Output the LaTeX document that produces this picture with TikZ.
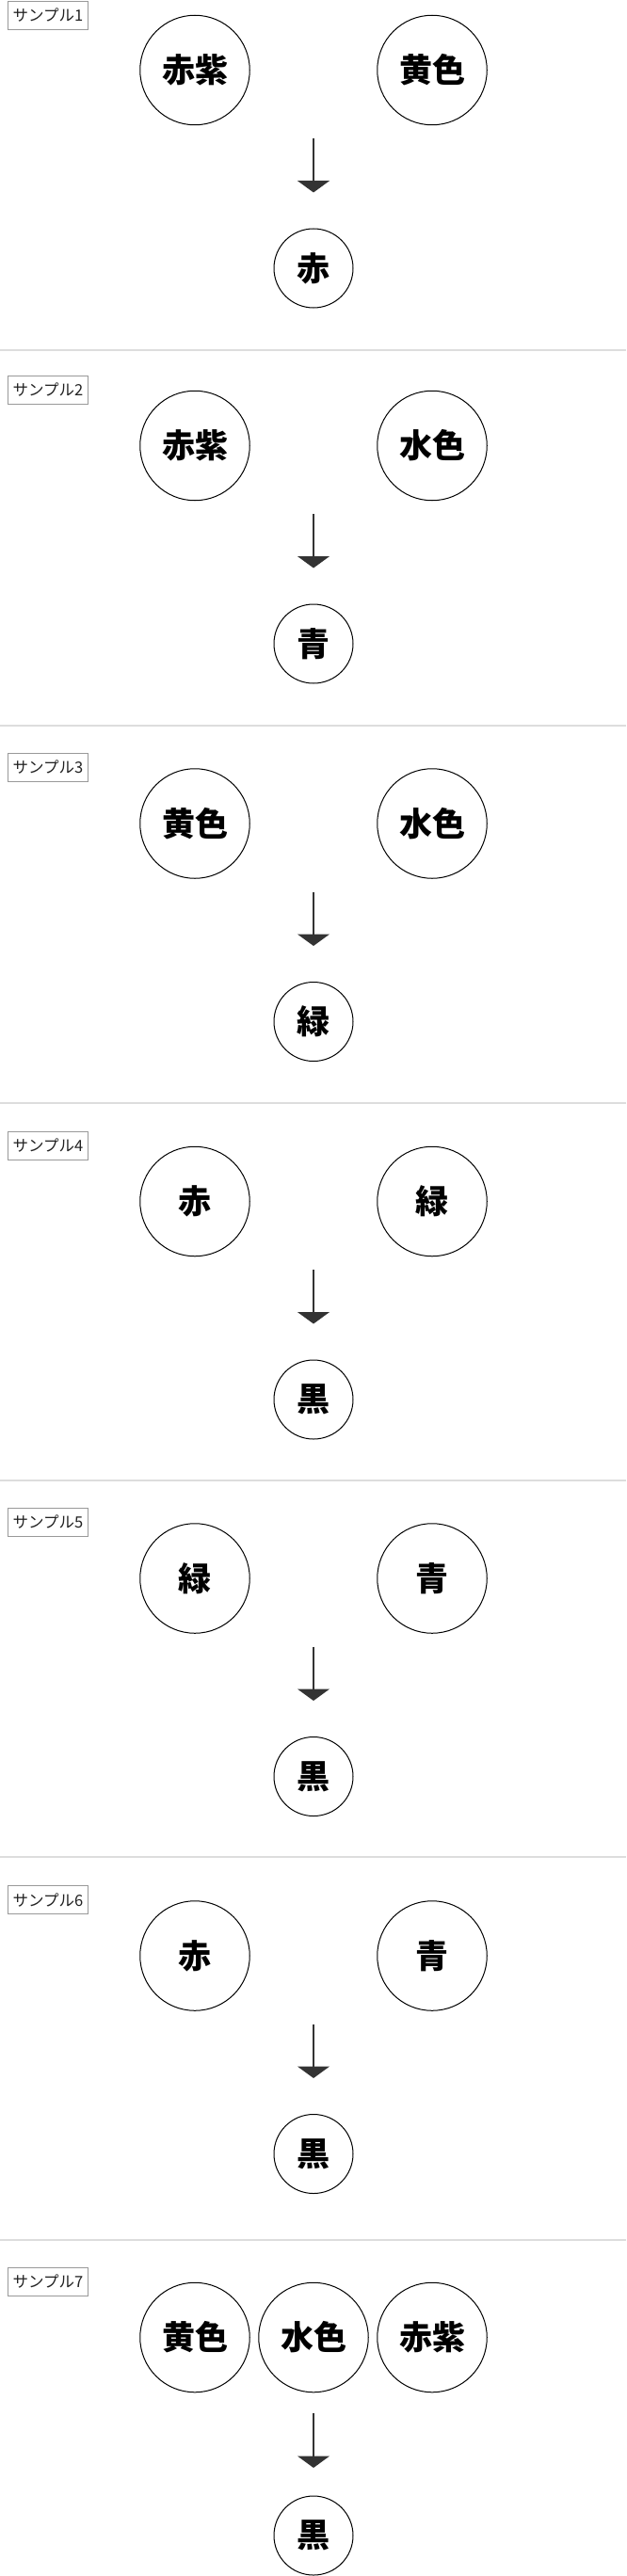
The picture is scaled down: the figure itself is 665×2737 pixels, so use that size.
\documentclass[tikz,border=0pt]{standalone}
\usepackage{fontspec}
\newfontfamily\jp{Noto Sans CJK JP}
\usetikzlibrary{arrows.meta}
\definecolor{sepgray}{HTML}{DDDDDD}
\definecolor{boxgray}{HTML}{999999}
\definecolor{arrowgray}{HTML}{333333}
\definecolor{txt}{HTML}{222222}
\tikzset{
  bigc/.style={circle,draw=black,line width=1pt,minimum size=116.5pt,inner sep=0pt,font=\jp\bfseries\fontsize{35}{35}\selectfont},
  smallc/.style={circle,draw=black,line width=1pt,minimum size=84pt,inner sep=0pt,font=\jp\bfseries\fontsize{35}{35}\selectfont},
  tagbox/.style={rectangle,draw=boxgray,line width=1pt,minimum width=85pt,minimum height=30pt,inner sep=0pt,text=txt,font=\jp\fontsize{16.5}{17}\selectfont},
  flow/.style={draw=arrowgray,line width=1.6pt,-{Triangle[width=34pt,length=12.5pt]}},
  sepline/.style={draw=sepgray,line width=2pt}
}
\begin{document}
\begin{tikzpicture}[x=1pt,y=-1pt]
\useasboundingbox (0,0) rectangle (665,2737);
\fill[white] (0,0) rectangle (665,2737);
% separators
\foreach \s [count=\k] in {372,770.6,1172,1573,1973.4,2379.5}{
  \coordinate (sepL\k) at (0,\s);
  \coordinate (sepR\k) at (665,\s);
  \draw[sepline] (sepL\k) -- (sepR\k);
}
% sections with two inputs
\foreach \i/\cy/\ty/\l/\r/\b in {1/74.5/16.5/赤紫/黄色/赤,2/473.5/414/赤紫/水色/青,3/875/815.5/黄色/水色/緑,4/1276.5/1217/赤/緑/黒,5/1677/1617.5/緑/青/黒,6/2078/2018.5/赤/青/黒}{
  \node[tagbox] (tag\i) at (50.9,\ty) {サンプル\i};
  \node[bigc] (L\i) at (207,\cy) {\l};
  \node[bigc] (R\i) at (459,\cy) {\r};
  \node[smallc] (B\i) at (333,\cy+210.5) {\b};
  \coordinate (as\i) at (333,\cy+72.5);
  \coordinate (ae\i) at (333,\cy+130);
  \draw[flow] (as\i) -- (ae\i);
}
% section 7
\node[tagbox] (tag7) at (50.9,2424) {サンプル7};
\node[bigc] (L7) at (207,2483.5) {黄色};
\node[bigc] (M7) at (333,2483.5) {水色};
\node[bigc] (R7) at (459,2483.5) {赤紫};
\node[smallc] (B7) at (333,2694) {黒};
\coordinate (as7) at (333,2564);
\coordinate (ae7) at (333,2622);
\draw[flow] (as7) -- (ae7);
\end{tikzpicture}
\end{document}
